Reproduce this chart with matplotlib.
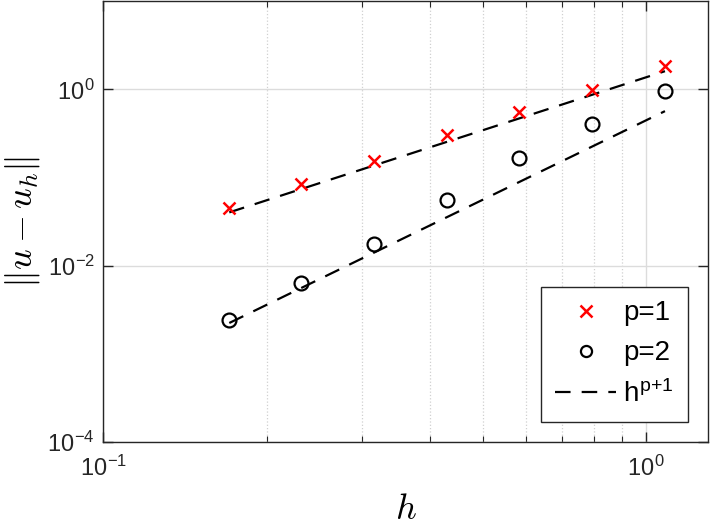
import matplotlib
matplotlib.use("Agg")
import matplotlib.pyplot as plt
from matplotlib.ticker import LogLocator, FixedLocator, NullFormatter

# ---- data ----
h = [0.1706, 0.2312, 0.3155, 0.4289, 0.5836, 0.7930, 1.082]
err_p1 = [0.0448, 0.0837, 0.1538, 0.303, 0.557, 0.982, 1.837]
err_p2 = [0.00242, 0.00641, 0.0175, 0.0551, 0.165, 0.404, 0.957]
# reference lines C*h^(p+1), values at first and last h
ref_h = [0.1706, 1.082]
ref_p1 = [0.0403, 1.612]
ref_p2 = [0.00224, 0.5675]

labels = ["p=1", "p=2", r"h$^{\mathregular{p{+}1}}$"]
xticks = [0.1, 1.0]
yticks = [1e-4, 1e-2, 1e0]
xticklabels = [r'10$^{\mathregular{-1}}$', r'10$^{\mathregular{0}}$']
yticklabels = [r'10$^{\mathregular{-4}}$', r'10$^{\mathregular{-2}}$', r'10$^{\mathregular{0}}$']

plt.rcParams['font.family'] = ['Liberation Sans', 'DejaVu Sans']
plt.rcParams['mathtext.fontset'] = 'cm'

fig = plt.figure(figsize=(7.14, 5.28), dpi=100)
ax = fig.add_axes([0.1447, 0.1629, 0.9912 - 0.1447, 0.9975 - 0.1629])

ax.plot(h, err_p1, linestyle='none', marker='x', color='red', markersize=9,
        markeredgewidth=1.8, label=labels[0], zorder=3)
ax.plot(h, err_p2, linestyle='none', marker='o', markerfacecolor='none',
        markeredgecolor='black', markersize=10, markeredgewidth=1.6,
        label=labels[1], zorder=3)
ax.plot(ref_h, ref_p1, linestyle=(0, (7, 5)), color='black', linewidth=1.6,
        label=labels[2], zorder=2)
ax.plot(ref_h, ref_p2, linestyle=(0, (7, 5)), color='black', linewidth=1.6,
        zorder=2)

ax.set_xscale('log')
ax.set_yscale('log')
ax.set_xlim(0.1, 1.297)
ax.set_ylim(1e-4, 10)

ax.xaxis.set_major_locator(FixedLocator(xticks))
ax.xaxis.set_minor_locator(LogLocator(base=10, subs=range(2, 10)))
ax.xaxis.set_minor_formatter(NullFormatter())
ax.yaxis.set_major_locator(FixedLocator(yticks))
ax.yaxis.set_minor_locator(FixedLocator([]))
ax.set_xticklabels(xticklabels)
ax.set_yticklabels(yticklabels)

ax.tick_params(which='both', direction='in', top=True, right=True,
               colors='#262626', labelsize=17)
ax.tick_params(which='major', length=7, width=1.0)
ax.tick_params(which='minor', length=4, width=0.8)
ax.tick_params(axis='x', pad=10)
ax.tick_params(axis='y', pad=6)

ax.grid(True, which='major', color='#dcdcdc', linestyle='-', linewidth=1.0)
ax.grid(True, which='minor', axis='x', color='#d0d0d0', linestyle=':', linewidth=0.9)
ax.set_axisbelow(True)

for s in ax.spines.values():
    s.set_color('#262626')
    s.set_linewidth(1.0)

ax.set_xlabel(r'$h$', fontsize=26, labelpad=8)
ax.set_ylabel(r'$\|u-u_h\|$', fontsize=26, labelpad=4)

leg = ax.legend(loc='lower right', fontsize=20, frameon=True, fancybox=False,
                edgecolor='#262626', framealpha=1, handlelength=2.2,
                handletextpad=0.25, borderaxespad=0.72, labelspacing=0.5,
                borderpad=0.5)
leg.get_frame().set_linewidth(1.0)
for lh in leg.legend_handles[:2]:
    lh.set_markersize(8)

fig.savefig('out.png', dpi=100)
